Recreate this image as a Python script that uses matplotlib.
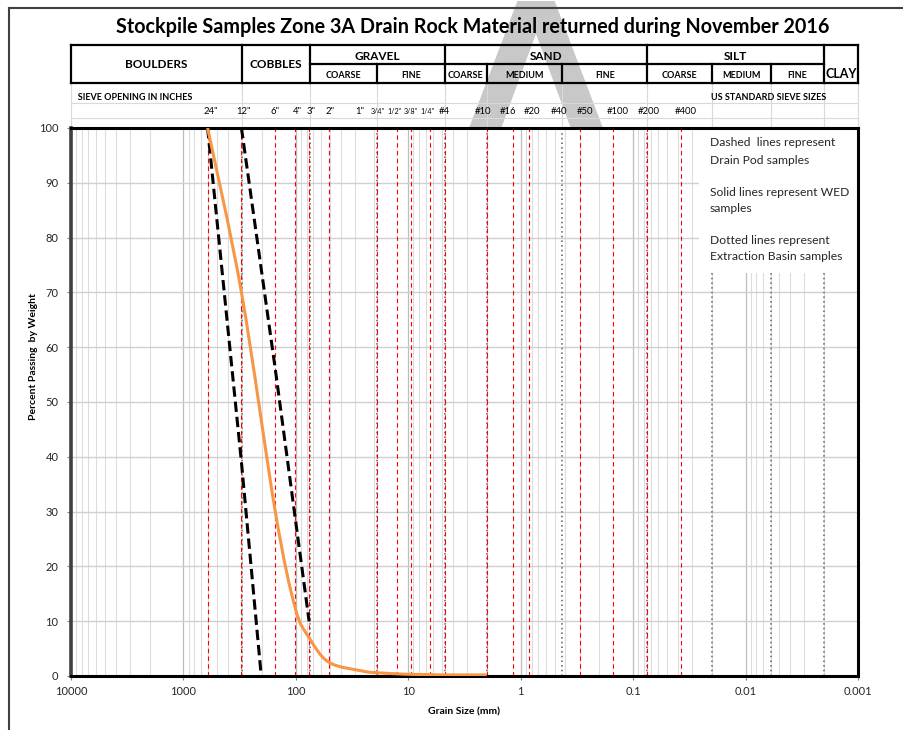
import numpy as np
import matplotlib
matplotlib.use("Agg")
import matplotlib.pyplot as plt
import matplotlib.ticker as ticker
from matplotlib.path import Path
from matplotlib.patches import PathPatch, Rectangle
from matplotlib.lines import Line2D
from matplotlib.transforms import offset_copy

plt.rcParams['font.family'] = ['Lato', 'DejaVu Sans']

# ---- sieve sizes (mm) and their labels ----
inch_labels = ['24"', '12"', '6"', '4"', '3"', '2"', '1"', '3/4"', '1/2"', '3/8"', '1/4"']
inch_sizes = [609.6, 304.8, 152.4, 101.6, 76.2, 50.8, 25.4, 19.05, 12.7, 9.525, 6.35]
us_labels = ['#4', '#10', '#16', '#20', '#40', '#50', '#100', '#200', '#400']
us_sizes = [4.75, 2.0, 1.18, 0.85, 0.425, 0.3, 0.15, 0.075, 0.0375]

# red dashed sieve lines
red_lines = [609.6, 304.8, 152.4, 101.6, 76.2, 50.8, 19.05, 12.7, 9.525, 6.35,
             4.75, 2.0, 1.18, 0.85, 0.3, 0.15, 0.075, 0.0375]

# grain-size class boundaries (mm), grey dotted
class_bounds = [300, 75, 19, 4.75, 2.0, 0.425, 0.075, 0.02, 0.006, 0.002]

# header table
main_names = ['BOULDERS', 'COBBLES', 'GRAVEL', 'SAND', 'SILT', 'CLAY']
main_edges = [10000, 300, 75, 4.75, 0.075, 0.002, 0.001]
sub_names = ['COARSE', 'FINE', 'COARSE', 'MEDIUM', 'FINE', 'COARSE', 'MEDIUM', 'FINE']
sub_edges = [75, 19, 4.75, 2.0, 0.425, 0.075, 0.02, 0.006, 0.002]

# gradation results
pod1_size = [609.6, 304.8, 203.2]
pod1_pass = [100, 39, 0]
pod2_size = [304.8, 152.4, 101.6, 76.2]
pod2_pass = [100, 56, 29, 10]
wed_size = [609.6, 304.8, 152.4, 101.6, 76.2, 50.8, 25.4, 19.05, 12.7, 9.525, 6.35, 4.75, 2.0]
wed_pass = [100, 70, 30, 12.5, 7, 2.5, 0.9, 0.6, 0.4, 0.3, 0.25, 0.2, 0.2]

W, H = 904, 730

# nudges (pixels) so neighbouring sieve labels don't collide
label_nudge = {'24"': 3, '12"': 2, '4"': 2, '3"': 2, '2"': 1, '1"': -3, '3/4"': 1,
               '1/2"': -2, '1/4"': -3, '#10': -4, '#16': -5, '#20': 3, '#40': -3,
               '#50': 5, '#100': 4, '#200': 2, '#400': 5}


def fx(px):
    return px / W


def fy(py):
    return 1 - py / H


def smooth_path(xs, ys):
    # Catmull-Rom style bezier in (log x, y) space, like a smoothed Excel line
    lx = np.log10(xs)
    y = np.asarray(ys, float)
    n = len(lx)
    verts = [(xs[0], ys[0])]
    codes = [Path.MOVETO]
    for i in range(n - 1):
        a = max(i - 1, 0)
        b = min(i + 2, n - 1)
        c1 = (lx[i] + (lx[i + 1] - lx[a]) / 6, y[i] + (y[i + 1] - y[a]) / 6)
        c2 = (lx[i + 1] - (lx[b] - lx[i]) / 6, y[i + 1] - (y[b] - y[i]) / 6)
        verts += [(10 ** c1[0], c1[1]), (10 ** c2[0], c2[1]), (xs[i + 1], ys[i + 1])]
        codes += [Path.CURVE4] * 3
    return Path(verts, codes)


fig = plt.figure(figsize=(W / 100, H / 100), dpi=100)

# faint watermark behind everything
fig.text(fx(535), fy(244), 'A', fontsize=240, color='#c8c8c8', ha='center',
         va='baseline', zorder=-1, family='DejaVu Sans')

# page frame
fig.add_artist(Line2D([fx(9), 1], [fy(8), fy(8)], color='#404040', lw=1.5))
fig.add_artist(Line2D([fx(9), fx(9)], [fy(8), 0], color='#404040', lw=1.5))

fig.text(fx(473), fy(27), 'Stockpile Samples Zone 3A Drain Rock Material returned during November 2016',
         ha='center', va='center', fontsize=14.2, fontweight='bold')

left, right = fx(71), fx(858)

# ---- header table ----
hdr = fig.add_axes([left, fy(128), right - left, (128 - 40) / H])
hdr.set_xscale('log')
hdr.set_xlim(10000, 0.001)
hdr.set_ylim(128, 40)
hdr.axis('off')

cell_grey = '#d9d9d9'
for yy in (103, 118):
    hdr.plot([10000, 0.001], [yy, yy], color=cell_grey, lw=0.8, clip_on=False, zorder=1)
for xx in [10000] + class_bounds + [0.001]:
    hdr.plot([xx, xx], [83, 128], color=cell_grey, lw=0.8, clip_on=False, zorder=1)

lk = dict(color='black', lw=1.6, clip_on=False, zorder=3, solid_capstyle='projecting')
hdr.plot([10000, 0.001], [45, 45], **lk)
hdr.plot([10000, 0.001], [83, 83], **lk)
hdr.plot([75, 0.002], [64, 64], **lk)
for xx in main_edges:
    hdr.plot([xx, xx], [45, 83], **lk)
for xx in sub_edges[1:-1]:
    if xx not in main_edges:
        hdr.plot([xx, xx], [64, 83], **lk)

for i, name in enumerate(main_names):
    xc = np.sqrt(main_edges[i] * main_edges[i + 1])
    if name in ('BOULDERS', 'COBBLES'):
        yc = 65
    elif name == 'CLAY':
        yc = 74
    else:
        yc = 56
    hdr.text(xc, yc, name, ha='center', va='center', fontsize=8.5 if name != 'CLAY' else 9,
             fontweight='bold')
for i, name in enumerate(sub_names):
    xc = np.sqrt(sub_edges[i] * sub_edges[i + 1])
    hdr.text(xc, 75, name, ha='center', va='center', fontsize=6.5, fontweight='bold')

hdr.text(10000, 98, '   SIEVE OPENING IN INCHES', ha='left', va='center', fontsize=6.5, fontweight='bold')
hdr.text(0.0205, 98, 'US STANDARD SIEVE SIZES', ha='left', va='center', fontsize=6.5, fontweight='bold')
for lab, s in zip(inch_labels + us_labels, inch_sizes + us_sizes):
    fs = 5.2 if '/' in lab else 6.8
    tr = offset_copy(hdr.transData, fig=fig, x=label_nudge.get(lab, 0), y=0, units='dots')
    hdr.text(s, 111, lab, ha='center', va='center', fontsize=fs, transform=tr)

# ---- main gradation plot ----
ax = fig.add_axes([left, fy(676), right - left, (676 - 128) / H])
ax.set_xscale('log')
ax.set_xlim(10000, 0.001)
ax.set_ylim(0, 100)
ax.set_yticks(range(0, 101, 10))
ax.xaxis.set_major_locator(ticker.FixedLocator([1e4, 1e3, 1e2, 1e1, 1, 0.1, 0.01, 0.001]))
ax.xaxis.set_minor_locator(ticker.LogLocator(base=10, subs=np.arange(2, 10), numticks=12))
ax.xaxis.set_major_formatter(ticker.FuncFormatter(lambda v, p: '{:g}'.format(v)))
ax.xaxis.set_minor_formatter(ticker.NullFormatter())
ax.set_axisbelow(True)
ax.grid(which='minor', axis='x', color='#dcdcdc', lw=0.8)
ax.grid(which='major', axis='x', color='#bdbdbd', lw=0.9)
ax.grid(which='major', axis='y', color='#d0d0d0', lw=1.0)

for s in ['top', 'right', 'bottom']:
    ax.spines[s].set_linewidth(2.2)
    ax.spines[s].set_color('black')
ax.spines['left'].set_linewidth(2.6)
ax.spines['left'].set_color('#404040')
ax.tick_params(axis='both', which='major', labelsize=8, colors='#7f7f7f',
               labelcolor='#262626', length=3, width=0.8)
ax.tick_params(axis='x', which='minor', length=0)
ax.tick_params(axis='x', which='major', pad=4)
ax.tick_params(axis='y', pad=6)

for b in class_bounds:
    ax.axvline(b, color='#808080', lw=1.4, ls=(0, (0.8, 1.6)), zorder=1.2)
for r in red_lines:
    ax.axvline(r, color='#ff0000', lw=0.8, ls=(0, (4, 3)), zorder=1.3)

# white box behind the note text
ax.add_patch(Rectangle((0.001, 73.5), 0.0262 - 0.001, 26.5, facecolor='white',
                       edgecolor='none', zorder=1.5))
notes = ['Dashed  lines represent', 'Drain Pod samples', 'Solid lines represent WED',
         'samples', 'Dotted lines represent', 'Extraction Basin samples']
note_rows = [143, 160, 192, 209, 240, 256]
for t, r in zip(notes, note_rows):
    ax.text((710 - 71) / 787, (676 - r) / 548, t, transform=ax.transAxes,
            ha='left', va='center', fontsize=8.7, color='#262626', zorder=4)

dash = dict(color='black', lw=2.2, dashes=(3.4, 1.6), zorder=3)
ax.plot(pod1_size, pod1_pass, **dash)
ax.plot(pod2_size, pod2_pass, **dash)
ax.add_patch(PathPatch(smooth_path(wed_size, wed_pass), facecolor='none',
                       edgecolor='#f79646', lw=2.2, zorder=3.5))

fig.text(fx(33), fy(357), 'Percent Passing  by Weight', rotation=90, ha='center', va='center',
         fontsize=7.5, fontweight='bold')
fig.text(fx(464), fy(712), 'Grain Size (mm)', ha='center', va='center', fontsize=7.5,
         fontweight='bold')

fig.savefig('out.png', dpi=100)
